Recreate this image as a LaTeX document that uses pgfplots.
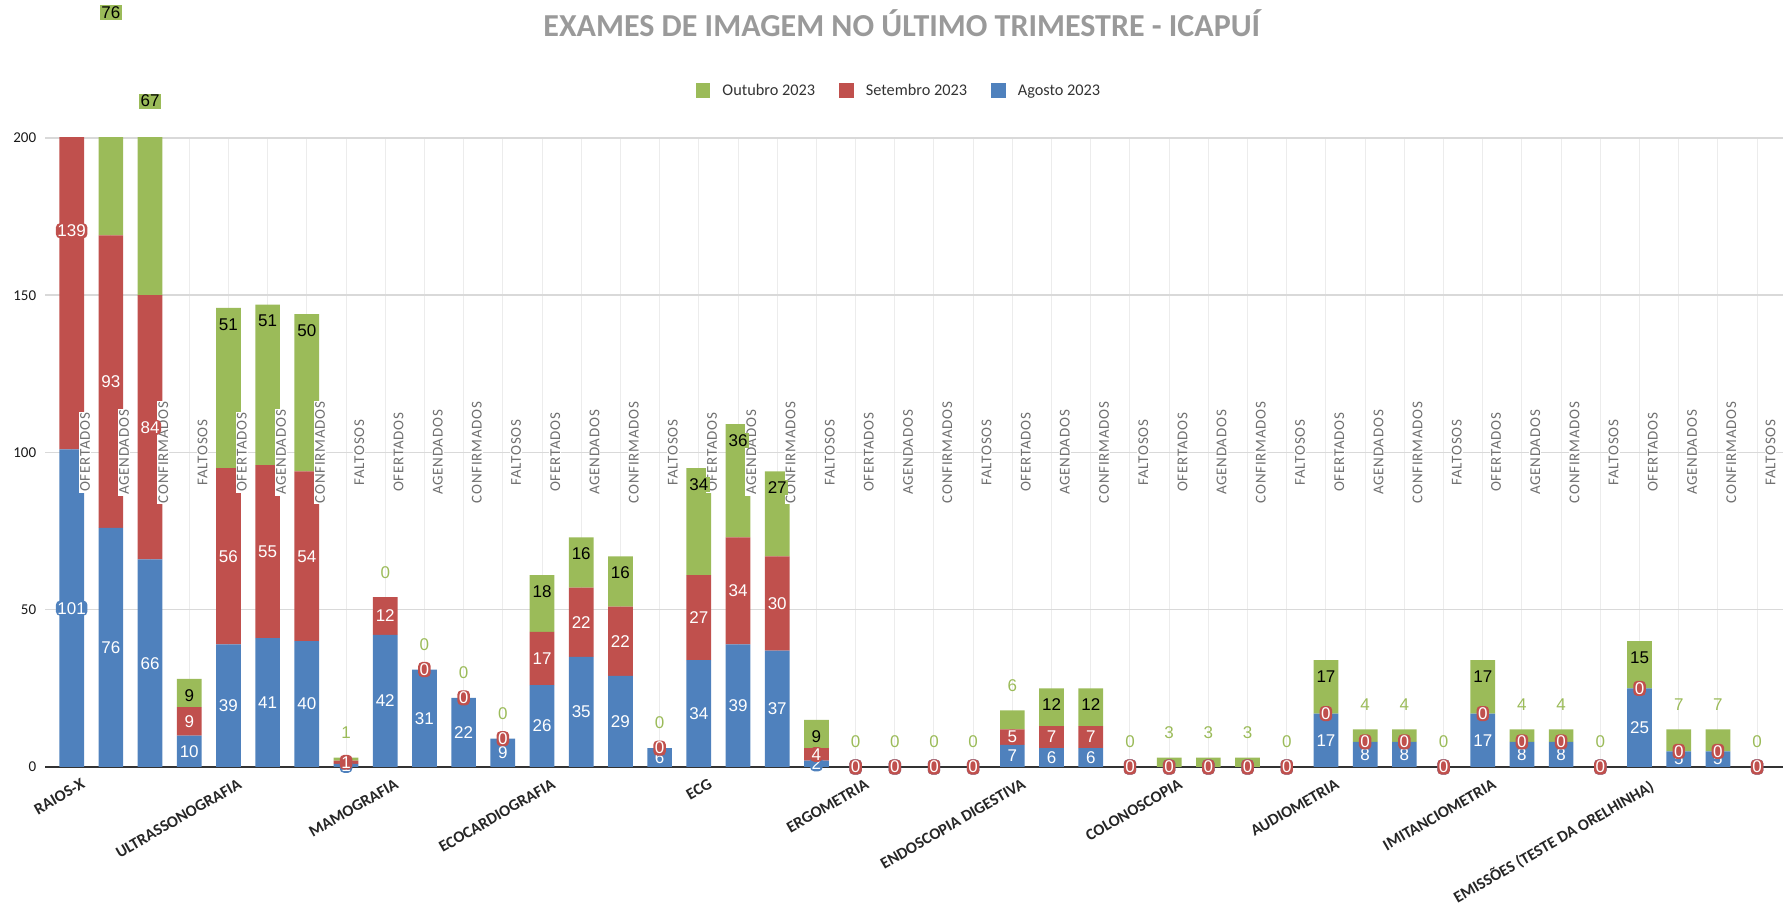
\documentclass[border=0pt]{standalone}
\usepackage{pgfplots}
\pgfplotsset{compat=1.18}
\usepackage{pgfplotstable}
\usepackage{fontspec}
\setmainfont{Carlito}
\newfontfamily\labfont{Liberation Sans}
\newfontfamily\subfont[LetterSpace=5]{Carlito}
\definecolor{cblue}{HTML}{4F81BD}
\definecolor{cred}{HTML}{C0504D}
\definecolor{cgreen}{HTML}{9BBB59}
\definecolor{ctitle}{HTML}{9A9A9A}
\definecolor{csub}{HTML}{707070}
\definecolor{cgrid}{HTML}{D9D9D9}
\definecolor{cvgrid}{HTML}{ECECEC}
\setlength{\fboxsep}{1.5pt}

\pgfplotstableread{
x b r g lab
0 101 139 100 OFERTADOS
1 76 93 76 AGENDADOS
2 66 84 67 CONFIRMADOS
3 10 9 9 FALTOSOS
4 39 56 51 OFERTADOS
5 41 55 51 AGENDADOS
6 40 54 50 CONFIRMADOS
7 1 1 1 FALTOSOS
8 42 12 0 OFERTADOS
9 31 0 0 AGENDADOS
10 22 0 0 CONFIRMADOS
11 9 0 0 FALTOSOS
12 26 17 18 OFERTADOS
13 35 22 16 AGENDADOS
14 29 22 16 CONFIRMADOS
15 6 0 0 FALTOSOS
16 34 27 34 OFERTADOS
17 39 34 36 AGENDADOS
18 37 30 27 CONFIRMADOS
19 2 4 9 FALTOSOS
20 0 0 0 OFERTADOS
21 0 0 0 AGENDADOS
22 0 0 0 CONFIRMADOS
23 0 0 0 FALTOSOS
24 7 5 6 OFERTADOS
25 6 7 12 AGENDADOS
26 6 7 12 CONFIRMADOS
27 0 0 0 FALTOSOS
28 0 0 3 OFERTADOS
29 0 0 3 AGENDADOS
30 0 0 3 CONFIRMADOS
31 0 0 0 FALTOSOS
32 17 0 17 OFERTADOS
33 8 0 4 AGENDADOS
34 8 0 4 CONFIRMADOS
35 0 0 0 FALTOSOS
36 17 0 17 OFERTADOS
37 8 0 4 AGENDADOS
38 8 0 4 CONFIRMADOS
39 0 0 0 FALTOSOS
40 25 0 15 OFERTADOS
41 5 0 7 AGENDADOS
42 5 0 7 CONFIRMADOS
43 0 0 0 FALTOSOS
}\data

\newcommand{\greenlab}[1]{\ifdim#1pt<8pt\textcolor{cgreen}{\pgfmathprintnumber{#1}}\else\colorbox{cgreen}{\pgfmathprintnumber{#1}}\fi}

\pgfplotsset{
  samebox/.style={
    at={(45pt,137pt)}, anchor=south west,
    scale only axis, width=1738pt, height=629pt,
    xmin=-0.68, xmax=43.66, ymin=0, ymax=200},
  datalab/.style={draw=none, mark=none, nodes near coords,
    nodes near coords style={anchor=center, text=white, rounded corners=4pt, inner sep=1.5pt, font=\labfont\fontsize{17}{20}\selectfont}},
}

\begin{document}
\begin{tikzpicture}[x=1pt,y=1pt]
\useasboundingbox (0,0) rectangle (1786,904);
\begin{axis}[
  samebox,
  ybar stacked, bar width=24.7pt,
  axis x line*=bottom, axis y line*=left,
  x axis line style={line width=2pt, color=black!80},
  y axis line style={draw=none},
  major tick length=0pt, minor tick length=0pt,
  xtick={0,4,...,40},
  minor xtick={0,1,...,43},
  xmajorgrids, xminorgrids, ymajorgrids,
  major x grid style={cvgrid, line width=1pt},
  minor x grid style={cvgrid, line width=1pt},
  major y grid style={cgrid, line width=1.5pt},
  ytick={0,50,100,150,200},
  /pgf/number format/assume math mode=true,
  yticklabel style={font=\fontsize{15}{18}\selectfont, inner sep=0pt, anchor=east, xshift=-8.6pt, text=black!90},
  xticklabels={RAIOS-X,ULTRASSONOGRAFIA,MAMOGRAFIA,ECOCARDIOGRAFIA,ECG,ERGOMETRIA,ENDOSCOPIA DIGESTIVA,COLONOSCOPIA,AUDIOMETRIA,IMITANCIOMETRIA,EMISSÕES (TESTE DA ORELHINHA)},
  xticklabel style={font=\fontsize{16.2}{19}\selectfont\bfseries, text=black!85, inner sep=0pt, anchor=north east, xshift=9pt, yshift=-11pt, rotate=30},
  title={EXAMES DE IMAGEM NO ÚLTIMO TRIMESTRE - ICAPUÍ},
  title style={at={(axis description cs:0.493,1.1515)}, anchor=base, font=\fontsize{32}{38}\selectfont\bfseries, text=ctitle, inner sep=0pt},
  legend style={at={(axis description cs:0.4908,1.0755)}, anchor=center, draw=none, fill=none, legend columns=-1, font=\fontsize{16.3}{18}\selectfont, text=black!80, inner sep=0pt, outer sep=0pt, nodes={inner sep=0pt},
    /tikz/every odd column/.append style={column sep=12pt},
    /tikz/every even column/.append style={column sep=24pt}},
  legend image code/.code={\fill[#1] (0pt,-7.8pt) rectangle (14.7pt,7.8pt);},
  reverse legend,
]
\addplot[fill=cblue, draw=none] table[x=x,y=b]{\data};
\addlegendentry{Agosto 2023}
\addplot[fill=cred, draw=none] table[x=x,y=r]{\data};
\addlegendentry{Setembro 2023}
\addplot[fill=cgreen, draw=none] table[x=x,y=g]{\data};
\addlegendentry{Outubro 2023}
\end{axis}
\begin{axis}[samebox, hide axis, clip=false, /pgf/number format/assume math mode=true]
% sub-category labels
\addplot[draw=none, mark=none, nodes near coords, point meta=explicit symbolic,
  nodes near coords style={anchor=center, xshift=13.3pt, rotate=90, fill=white, inner sep=1pt, text=csub, font=\subfont\fontsize{15}{18}\selectfont}]
  table[x=x, y expr=100, meta=lab]{\data};
% Agosto labels (centre of segment)
\addplot[datalab, point meta=\thisrow{b},
  nodes near coords style={fill=cblue}]
  table[x=x, y expr=\thisrow{b}/2]{\data};
% Setembro labels (centre of segment)
\addplot[datalab, point meta=\thisrow{r},
  nodes near coords style={fill=cred}]
  table[x=x, y expr=\thisrow{b}+\thisrow{r}/2]{\data};
% Outubro labels (inside end, or above when small)
\addplot[draw=none, mark=none,
  visualization depends on={\thisrow{g} \as \vg},
  nodes near coords={\greenlab{\vg}},
  nodes near coords style={anchor=center, yshift={(\vg<8)*41.5-16.5}, text=black, inner sep=0pt, font=\labfont\fontsize{17}{20}\selectfont}]
  table[x=x, y expr=\thisrow{b}+\thisrow{r}+\thisrow{g}]{\data};
\end{axis}
\end{tikzpicture}
\end{document}
